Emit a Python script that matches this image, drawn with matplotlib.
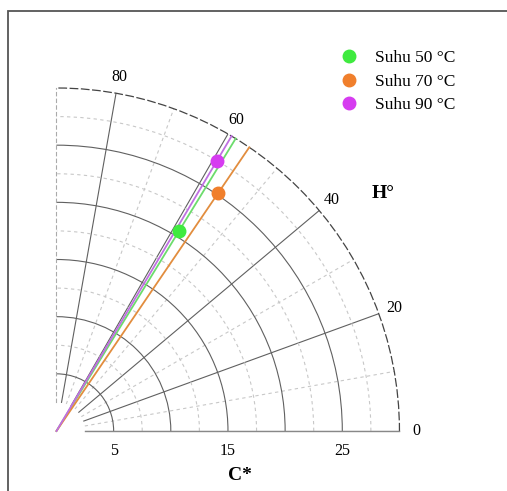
import numpy as np
import matplotlib
matplotlib.use("Agg")
import matplotlib.pyplot as plt
from matplotlib.patches import Rectangle

# hue angle (H°) and chroma (C*) per drying temperature
labels = ["Suhu 50 °C", "Suhu 70 °C", "Suhu 90 °C"]
hue = [58.5, 55.8, 59.3]
chroma = [20.5, 25.2, 27.5]
colors = ["#3fea3f", "#f07f2c", "#d63cf0"]
line_colors = ["#6cdc6c", "#e28d3e", "#bf6fe2"]

r_major = [5, 10, 15, 20, 25]
r_labels = ["5", "", "15", "", "25"]
r_minor = [7.5, 12.5, 17.5, 22.5, 27.5]
theta_major = [0, 20, 40, 60, 80]
theta_minor = [10, 30, 50, 70]
r_max = 30

plt.rcParams["font.family"] = ["Liberation Serif", "DejaVu Serif"]

fig = plt.figure(figsize=(5.07, 4.91), dpi=100)
ax = fig.add_axes([0.1114, 0.1222, 0.6765, 0.6986], projection="polar")
ax.set_thetamin(0)
ax.set_thetamax(90)
ax.set_rlim(2.5, r_max)
ax.set_rorigin(0)

ax.set_xticks(np.deg2rad(theta_major))
ax.set_xticklabels([str(t) for t in theta_major])
ax.set_xticks(np.deg2rad(theta_minor), minor=True)
ax.set_yticks(r_major)
ax.set_yticklabels(r_labels)
ax.set_yticks(r_minor, minor=True)

ax.grid(True, which="major", color="#606060", lw=0.8, ls="-")
ax.grid(True, which="minor", color="#c8c8c8", lw=0.8, ls=(0, (3, 3)))
ax.tick_params(axis="both", which="both", length=0)
ax.tick_params(axis="x", pad=5, labelsize=11.5)
ax.tick_params(axis="y", pad=9, labelsize=11.5)

# the hole around the origin gets no edge line
ax.spines["inner"].set_color("none")
ax.spines["inner"].set_linewidth(0)
ax.spines["start"].set_color("#888888")
ax.spines["start"].set_linewidth(1.0)
ax.spines["end"].set_color("#aaaaaa")
ax.spines["end"].set_linewidth(0.8)
ax.spines["end"].set_linestyle((0, (3, 3)))
ax.spines["polar"].set_color("#444444")
ax.spines["polar"].set_linewidth(0.9)
ax.spines["polar"].set_linestyle((0, (6, 3)))

for h, c, col, lc, lab in zip(hue, chroma, colors, line_colors, labels):
    th = np.deg2rad(h)
    ax.plot([th, th], [0, r_max], color=lc, lw=1.3, clip_on=False, zorder=3)
    ax.plot(th, c, "o", color=col, ms=9, label=lab, zorder=4, clip_on=False)

fig.legend(loc="upper left", bbox_to_anchor=(340 / 507, 1 - 50 / 491),
           frameon=False, fontsize=12.5, handlelength=1.0, handletextpad=1.0,
           labelspacing=0.43, borderpad=0, borderaxespad=0, numpoints=1)

fig.text(240 / 507, 1 - 475 / 491, "C*", ha="center", va="center",
         fontsize=14, fontweight="bold")
fig.text(383 / 507, 1 - 193 / 491, "H°", ha="center", va="center",
         fontsize=14, fontweight="bold")

# page border (top and left edges only fall inside the image)
fig.add_artist(Rectangle((8 / 507, -0.1), 1.2, 1.1 - 11 / 491,
                         transform=fig.transFigure, fill=False,
                         ec="#555555", lw=1.3))

fig.savefig("out.png", dpi=100)
